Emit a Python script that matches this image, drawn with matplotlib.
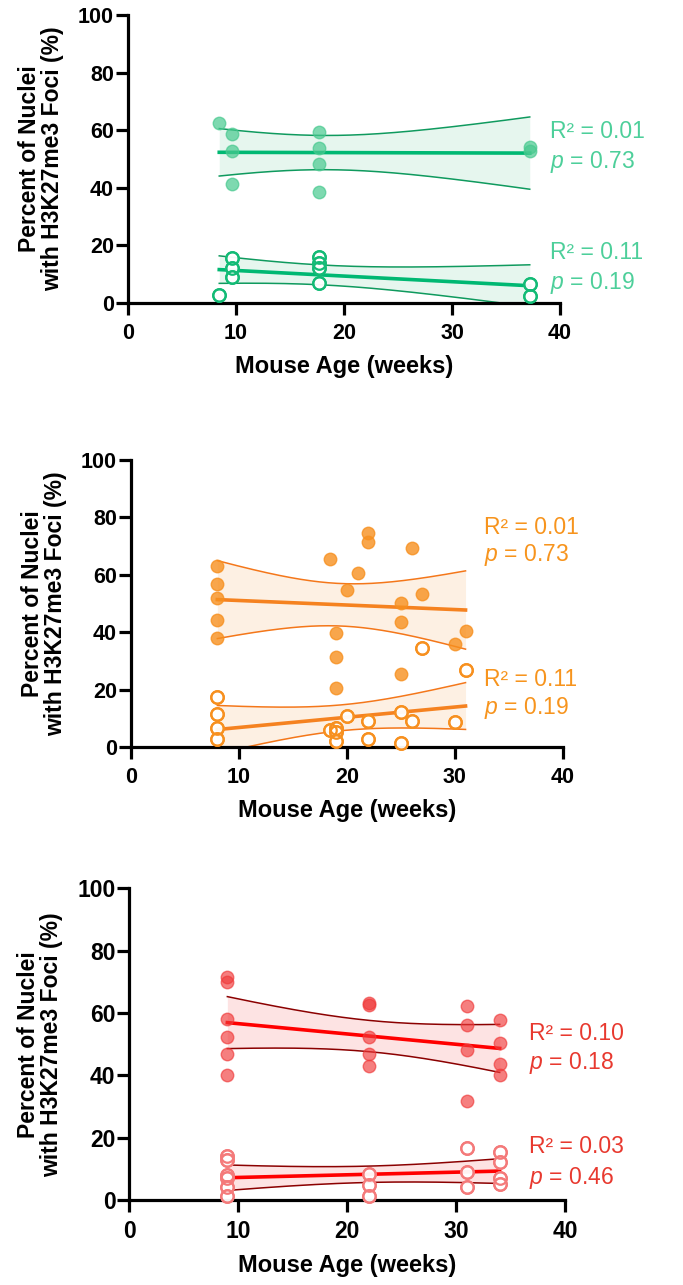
import numpy as np
import matplotlib
matplotlib.use("Agg")
import matplotlib.pyplot as plt

plt.rcParams['font.family'] = ['Liberation Sans', 'DejaVu Sans']
plt.rcParams['mathtext.fontset'] = 'custom'
plt.rcParams['mathtext.rm'] = 'Liberation Sans'
plt.rcParams['mathtext.it'] = 'Liberation Sans:italic'

# ---- data ----
# panel 1 (green)
p1_filled_x = [8.45, 9.6, 9.6, 9.6, 17.7, 17.7, 17.7, 17.7, 37.2, 37.2]
p1_filled_y = [62.4, 58.7, 52.9, 41.3, 59.5, 53.7, 48.3, 38.4, 54.3, 52.9]
p1_open_x = [8.45, 9.6, 9.6, 9.6, 17.7, 17.7, 17.7, 17.7, 37.2, 37.2]
p1_open_y = [2.9, 15.5, 12.0, 9.1, 15.9, 13.8, 12.0, 6.8, 6.5, 2.4]
p1_text = [("R² = 0.01", "$p$ = 0.73"), ("R² = 0.11", "$p$ = 0.19")]

# panel 2 (orange)
p2_filled_x = [8, 8, 8, 8, 8, 18.4, 19, 19, 19, 20, 21, 22, 22, 25, 25, 25, 26, 27, 30, 31]
p2_filled_y = [63.2, 56.8, 52.0, 44.2, 38.0, 65.5, 39.8, 31.3, 20.5, 54.6, 60.8, 74.4, 71.6,
               50.3, 43.5, 25.5, 69.5, 53.5, 36.0, 40.5]
p2_open_x = [8, 8, 8, 8, 18.4, 19, 19, 19, 20, 22, 22, 25, 25, 26, 27, 30, 31]
p2_open_y = [17.6, 11.6, 6.6, 2.9, 6.1, 6.6, 5.4, 2.2, 10.8, 9.3, 2.8, 12.4, 1.6, 9.3, 34.7,
             8.9, 26.8]
p2_text = [("R² = 0.01", "$p$ = 0.73"), ("R² = 0.11", "$p$ = 0.19")]

# panel 3 (red)
p3_filled_x = [9, 9, 9, 9, 9, 9, 22, 22, 22, 22, 22, 31, 31, 31, 31, 34, 34, 34, 34]
p3_filled_y = [71.6, 70.0, 58.1, 52.4, 46.8, 40.2, 63.1, 62.6, 52.4, 47.0, 43.1,
               62.2, 56.3, 48.1, 31.8, 57.7, 50.5, 43.7, 40.2]
p3_open_x = [9, 9, 9, 9, 9, 9, 22, 22, 22, 31, 31, 31, 34, 34, 34, 34]
p3_open_y = [14.1, 13.0, 8.0, 7.0, 4.3, 1.3, 8.2, 4.8, 1.3, 16.6, 9.1, 4.3, 15.5, 12.3, 7.0, 5.3]
p3_text = [("R² = 0.10", "$p$ = 0.18"), ("R² = 0.03", "$p$ = 0.46")]

# two-sided 95% t critical values by degrees of freedom
T95 = {8: 2.306, 14: 2.145, 15: 2.131, 17: 2.110, 18: 2.101}


def fit_band(ax, x, y, line_col, edge_col, fill_col):
    x = np.asarray(x, float)
    y = np.asarray(y, float)
    n = len(x)
    b, a = np.polyfit(x, y, 1)
    xs = np.linspace(x.min(), x.max(), 200)
    yhat = a + b * xs
    resid = y - (a + b * x)
    s = np.sqrt(np.sum(resid ** 2) / (n - 2))
    sxx = np.sum((x - x.mean()) ** 2)
    se = s * np.sqrt(1.0 / n + (xs - x.mean()) ** 2 / sxx)
    half = T95[n - 2] * se
    ax.fill_between(xs, yhat - half, yhat + half, color=fill_col, lw=0, zorder=1)
    ax.plot(xs, yhat + half, color=edge_col, lw=1.1, zorder=2)
    ax.plot(xs, yhat - half, color=edge_col, lw=1.1, zorder=2)
    ax.plot(xs, yhat, color=line_col, lw=2.6, zorder=3)


def panel(rect, fx, fy, ox, oy, cols, texts, text_pos, tsize):
    ax = fig.add_axes(rect)
    line_col, edge_col, fill_col, pt_col, open_col, txt_col, alpha = cols
    fit_band(ax, fx, fy, line_col, edge_col, fill_col)
    fit_band(ax, ox, oy, line_col, edge_col, fill_col)
    ax.plot(fx, fy, 'o', ms=9, color=pt_col, alpha=alpha, mec=pt_col, zorder=4, clip_on=False)
    ax.plot(ox, oy, 'o', ms=9, mfc='white', mec=open_col, mew=1.6, alpha=0.95,
            zorder=4, clip_on=False)
    ax.plot(ox, oy, 'o', ms=9, mfc='none', mec=open_col, mew=1.6, zorder=5, clip_on=False)
    for (t1, t2), (tx, ty1, ty2) in zip(texts, text_pos):
        ax.text(tx, ty1, t1, color=txt_col, fontsize=16.5, va='center', ha='left')
        ax.text(tx, ty2, t2, color=txt_col, fontsize=16.5, va='center', ha='left')
    ax.set_xlim(0, 40)
    ax.set_ylim(0, 100)
    ax.set_xticks([0, 10, 20, 30, 40])
    ax.set_yticks([0, 20, 40, 60, 80, 100])
    for sp in ['top', 'right']:
        ax.spines[sp].set_visible(False)
    for sp in ['left', 'bottom']:
        ax.spines[sp].set_linewidth(2.3)
    ax.tick_params(width=2.3, length=8.5, labelsize=tsize)
    ax.tick_params(axis='y', pad=1.5)
    ax.tick_params(axis='x', pad=6)
    for lab in ax.get_xticklabels() + ax.get_yticklabels():
        lab.set_fontweight('bold')
    ax.set_xlabel('Mouse Age (weeks)', fontsize=17, fontweight='bold', labelpad=8)
    ax.set_ylabel('Percent of Nuclei\nwith H3K27me3 Foci (%)', fontsize=16.5,
                  fontweight='bold', labelpad=10, linespacing=1.0)
    return ax


fig = plt.figure(figsize=(6.83, 12.85), dpi=100)

green = ('#00b872', '#0f9a5e', '#e6f6ee', '#48c98f', '#13bb76', '#4dcf9a', 0.7)
orange = ('#f58220', '#f4771a', '#fdf0e3', '#f7901f', '#f7901f', '#f7941d', 0.8)
red = ('#ff0000', '#8b0000', '#fde3e3', '#f03a3a', '#f47a7a', '#e8392f', 0.65)

panel([0.1874, 0.7642, 0.6325, 0.2241], p1_filled_x, p1_filled_y, p1_open_x, p1_open_y,
      green, p1_text, [(39.1, 59.5, 49.1), (39.1, 17.4, 7.0)], 15.5)
panel([0.1918, 0.4185, 0.632, 0.2236], p2_filled_x, p2_filled_y, p2_open_x, p2_open_y,
      orange, p2_text, [(32.7, 76.6, 66.9), (32.7, 23.7, 13.6)], 15.5)
panel([0.1893, 0.0661, 0.638, 0.2426], p3_filled_x, p3_filled_y, p3_open_x, p3_open_y,
      red, p3_text, [(36.7, 53.5, 43.9), (36.7, 17.1, 7.0)], 16.5)

fig.savefig('out.png', dpi=100)
